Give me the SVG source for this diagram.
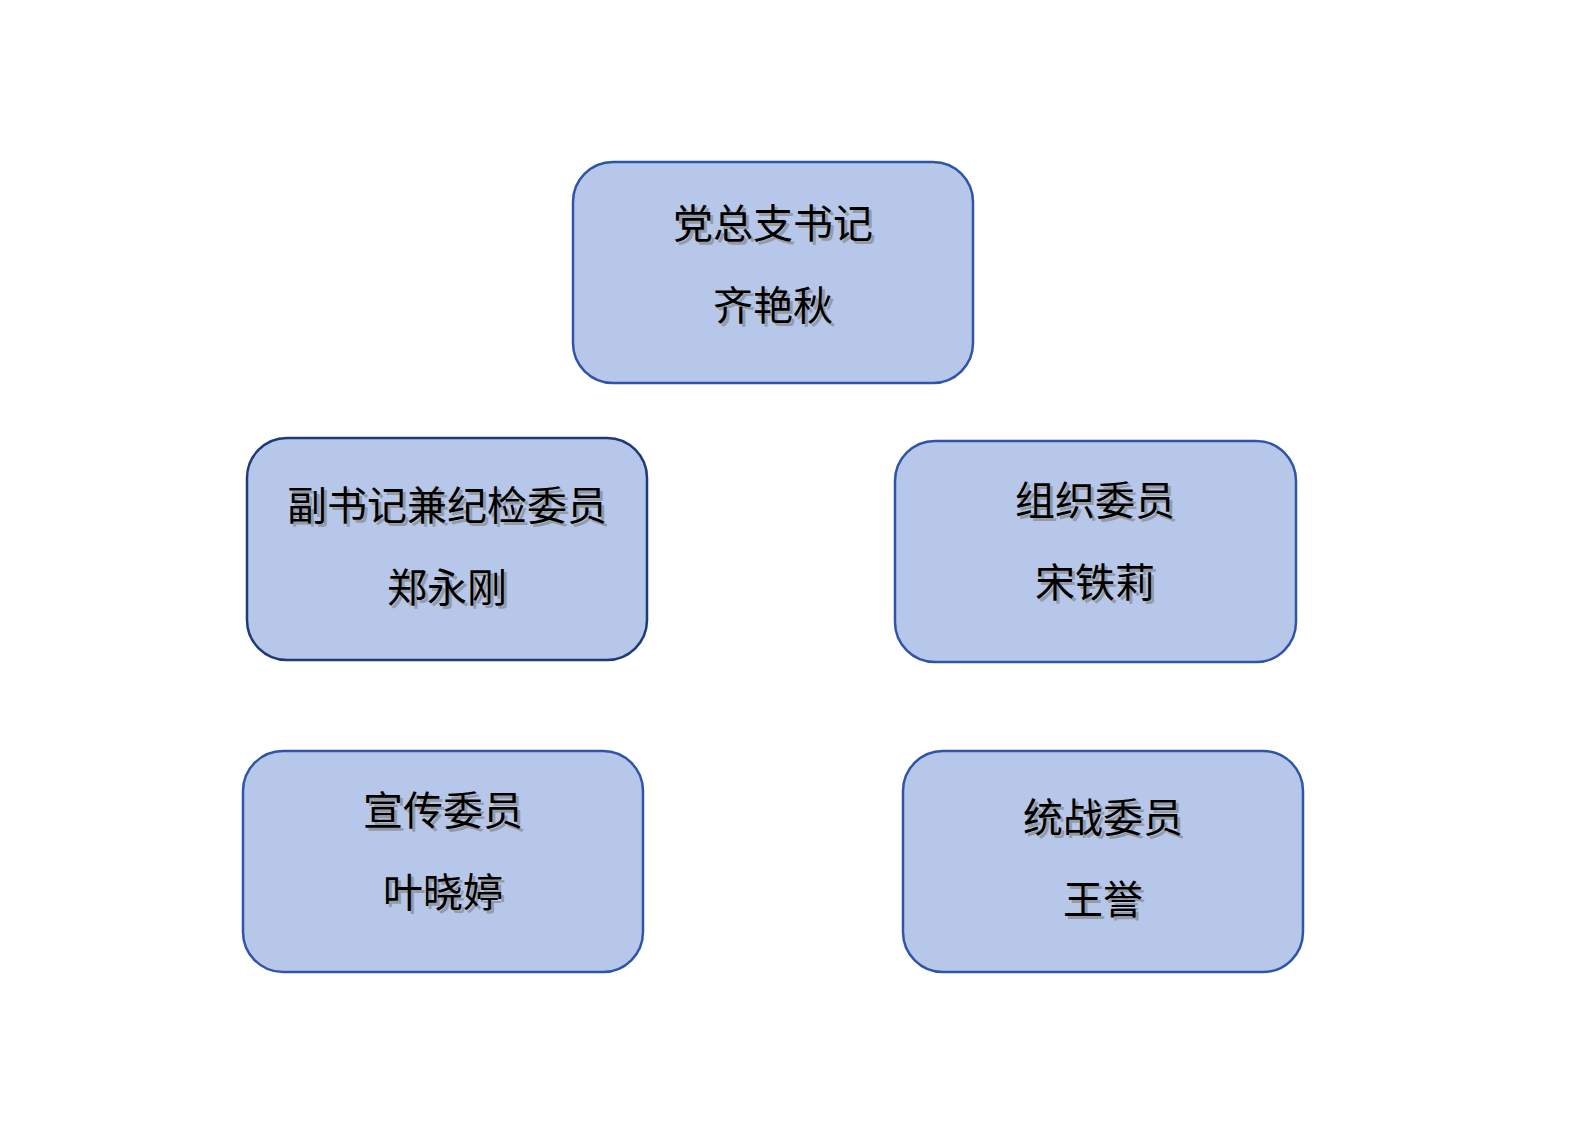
<svg xmlns="http://www.w3.org/2000/svg" width="1587" height="1148" viewBox="0 0 1587 1148">
<style>
.b{fill:#b7c7e9;stroke:#2f55a8;stroke-width:2.5}
.t{font-family:"Liberation Serif","Noto Sans CJK SC",serif;font-size:40px;text-anchor:middle;fill:#000}
.s{font-family:"Liberation Serif","Noto Sans CJK SC",serif;font-size:40px;text-anchor:middle;fill:#888;opacity:0.7}
</style>
<rect width="1587" height="1148" fill="#fff"/>
<g id="n1"><rect class="b" x="573" y="162" width="400" height="221" rx="40"/>
<text class="s" x="776" y="241">党总支书记</text><text class="t" x="773" y="238">党总支书记</text>
<text class="s" x="776" y="323">齐艳秋</text><text class="t" x="773" y="320">齐艳秋</text></g>
<g id="n2"><rect class="b" x="247" y="438" width="400" height="222" rx="40" style="stroke:#1f3a78"/>
<text class="s" x="450" y="523">副书记兼纪检委员</text><text class="t" x="447" y="520">副书记兼纪检委员</text>
<text class="s" x="450" y="605">郑永刚</text><text class="t" x="447" y="602">郑永刚</text></g>
<g id="n3"><rect class="b" x="895" y="441" width="401" height="221" rx="40"/>
<text class="s" x="1098" y="518">组织委员</text><text class="t" x="1095" y="515">组织委员</text>
<text class="s" x="1098" y="600">宋铁莉</text><text class="t" x="1095" y="597">宋铁莉</text></g>
<g id="n4"><rect class="b" x="243" y="751" width="400" height="221" rx="40"/>
<text class="s" x="446" y="828">宣传委员</text><text class="t" x="443" y="825">宣传委员</text>
<text class="s" x="446" y="910">叶晓婷</text><text class="t" x="443" y="907">叶晓婷</text></g>
<g id="n5"><rect class="b" x="903" y="751" width="400" height="221" rx="40"/>
<text class="s" x="1106" y="835">统战委员</text><text class="t" x="1103" y="832">统战委员</text>
<text class="s" x="1106" y="917">王誉</text><text class="t" x="1103" y="914">王誉</text></g>
<g id="connectors"></g>
</svg>
